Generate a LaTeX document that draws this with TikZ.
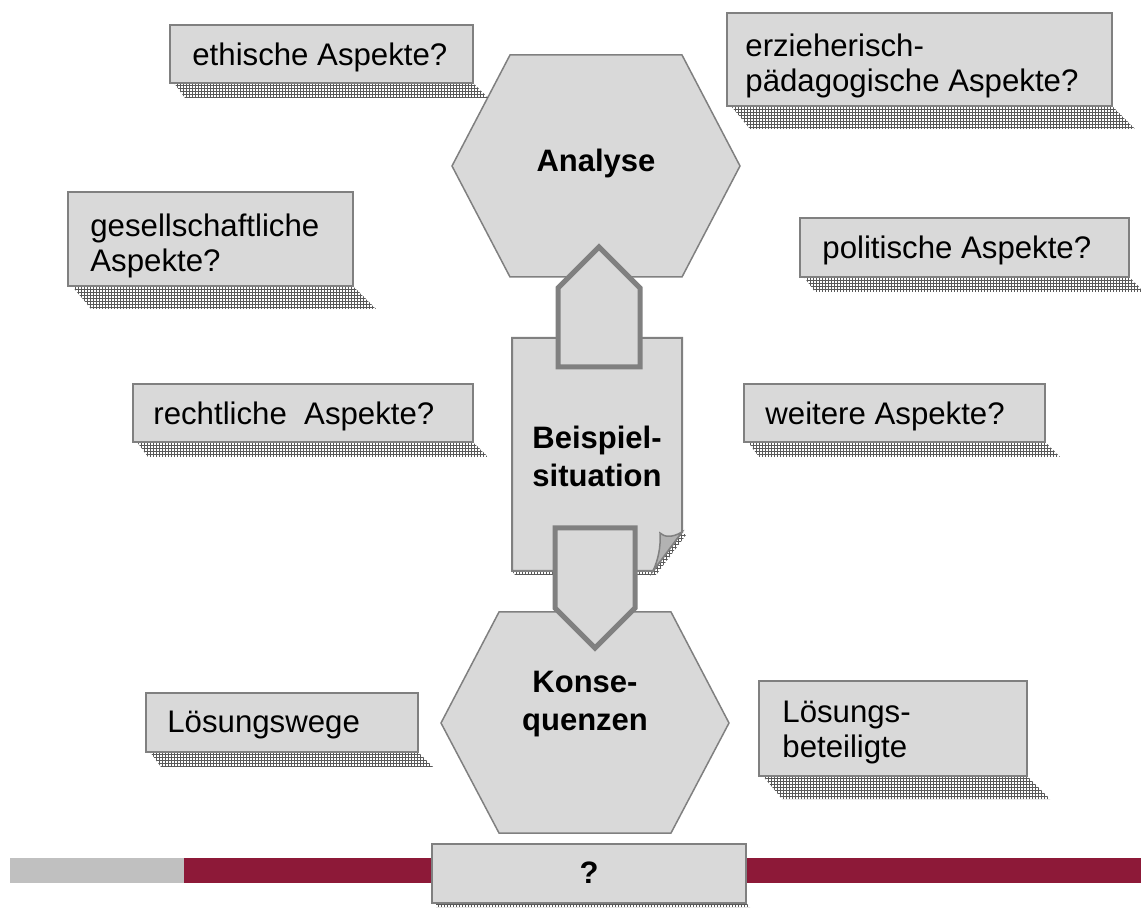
\documentclass[tikz,border=0pt]{standalone}
\usepackage{fontspec}
\setmainfont{Liberation Sans}
\usetikzlibrary{patterns}

\definecolor{boxgray}{RGB}{217,217,217}
\definecolor{linegray}{RGB}{128,128,128}
\definecolor{bargray}{RGB}{192,192,192}
\definecolor{barred}{RGB}{141,25,56}
\definecolor{foldgray}{RGB}{178,178,178}

\pgfdeclarepatternformonly{finegrid}{\pgfqpoint{-0.1pt}{-0.1pt}}{\pgfqpoint{1.6pt}{1.6pt}}{\pgfqpoint{1.5pt}{1.5pt}}{%
  \pgfsetlinewidth{0.5pt}
  \pgfpathmoveto{\pgfqpoint{0pt}{0pt}}\pgfpathlineto{\pgfqpoint{1.5pt}{0pt}}
  \pgfpathmoveto{\pgfqpoint{0pt}{0pt}}\pgfpathlineto{\pgfqpoint{0pt}{1.5pt}}
  \pgfusepath{stroke}}

\begin{document}
\begin{tikzpicture}[x=0.5pt, y=-0.5pt,
    aspect/.style={draw=linegray, fill=boxgray, line width=1pt},
    schatten/.style={pattern=finegrid, pattern color=gray!70!black},
    hexa/.style={draw=linegray, fill=boxgray, line width=0.75pt},
    blockpfeil/.style={draw=linegray, fill=boxgray, line width=2.5pt, line join=miter},
    txt/.style={anchor=west, align=left, inner sep=0pt, font=\fontsize{15.6}{17.5}\selectfont},
    titel/.style={align=center, inner sep=0pt, font=\fontsize{15.5}{19}\selectfont\bfseries}]
            \useasboundingbox (0,0) rectangle (1141,908);

            % Balken unten
            \fill[bargray] (10,858) rectangle (184,883);
            \fill[barred] (184,858) rectangle (1141,883);

            % Analyse und Konsequenzen
            \draw[hexa] (510,55) -- (682,55) -- (740,166) -- (682,277)
                -- (510,277) -- (452,166) -- cycle;
            \draw[hexa] (499,612) -- (671,612) -- (729,723) -- (671,833)
                -- (499,833) -- (441,723) -- cycle;

            % Beispielsituation (Blatt mit Eselsohr)
            \fill[schatten] (512,571) -- (653,571) -- (682,532) -- (686,535)
                -- (656,575) -- (515,575) -- cycle;
            \draw[aspect] (512,338) -- (682,338) -- (682,532) -- (653,571)
                -- (512,571) -- cycle;
            \draw[draw=linegray, fill=foldgray, line width=0.75pt] (682,532)
                .. controls (672,538) and (664,537) .. (660,533)
                .. controls (661,547) and (658,560) .. (653,571) -- cycle;

            % Pfeile
            \draw[blockpfeil] (558,367) -- (640,367) -- (640,288) -- (599,247)
                -- (558,288) -- cycle;
            \draw[blockpfeil] (555,528) -- (635,528) -- (635,608) -- (595,648)
                -- (555,608) -- cycle;

            % Kaesten mit Schatten
            \foreach \xa/\ya/\xb/\yb/\s in {170/25/473/83/15, 727/13/1112/106/23,
                68/192/353/286/23, 800/218/1129/277/15, 133/384/473/442/15,
                744/384/1045/442/15, 146/693/418/752/15, 759/681/1027/776/23,
                432/844/746/903/4} {
                \fill[schatten] (\xa+4,\yb) -- (\xb,\yb) -- (\xb+\s,\yb+\s)
                    -- (\xa+\s,\yb+\s) -- cycle;
                \draw[aspect] (\xa,\ya) rectangle (\xb,\yb);
            }

            \node[txt] (ethik) at (192,57) {ethische Aspekte?};
            \node[txt] (erziehung) at (745,66) {erzieherisch-\\p\"adagogische Aspekte?};
            \node[txt] (gesellschaft) at (90,246) {gesellschaftliche\\Aspekte?};
            \node[txt] (politik) at (822,250.5) {politische Aspekte?};
            \node[txt] (recht) at (153,416) {rechtliche\ \ Aspekte?};
            \node[txt] (weitere) at (765,416) {weitere Aspekte?};
            \node[txt] (wege) at (167,725.5) {L\"osungswege};
            \node[txt] (beteiligte) at (782,733) {L\"osungs-\\beteiligte};

            \node[titel] (analyse) at (596,163) {Analyse};
            \node[titel] (beispiel) at (597,456) {Beispiel-\\situation};
            \node[titel] (konsequenzen) at (585,704) {Konse-\\quenzen};
            \node[titel] (frage) at (589,873) {?};

        \end{tikzpicture}
\end{document}
